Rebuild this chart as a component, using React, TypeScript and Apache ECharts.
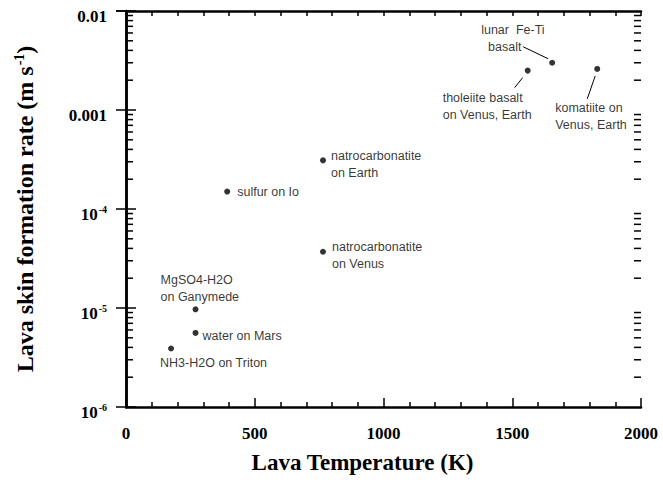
import { useEffect, useRef } from "react";
import * as echarts from "echarts";

// ---- data ----
const pointNames = [
  "NH3-H2O on Triton",
  "water on Mars",
  "MgSO4-H2O on Ganymede",
  "sulfur on Io",
  "natrocarbonatite on Earth",
  "natrocarbonatite on Venus",
  "tholeiite basalt on Venus, Earth",
  "lunar Fe-Ti basalt",
  "komatiite on Venus, Earth",
];
const lavaTemperatureK = [175, 270, 270, 393, 765, 765, 1560, 1655, 1830];
const skinRate = [3.9e-6, 5.6e-6, 9.7e-6, 1.5e-4, 3.1e-4, 3.7e-5, 2.5e-3, 3.0e-3, 2.6e-3];
const pointLabelText = [
  "NH3-H2O on Triton",
  "water on Mars",
  "MgSO4-H2O\non Ganymede",
  "sulfur on Io",
  "natrocarbonatite\non Earth",
  "natrocarbonatite\non Venus",
  "tholeiite basalt\non Venus, Earth",
  "lunar  Fe-Ti\n  basalt",
  "komatiite on\nVenus, Earth",
];
const leaderPointIndex = [6, 7, 8];

const xRange = [0, 2000];
const yRange = [1e-6, 1e-2];
const yDecadeStarts = [1e-6, 1e-5, 1e-4, 1e-3];
const yMinorMultipliers = [2, 3, 4, 5, 6, 7, 8, 9];
const yTickText: Record<string, string> = {
  "-2": "0.01",
  "-3": "0.001",
  "-4": "{b|10}{s|-4}",
  "-5": "{b|10}{s|-5}",
  "-6": "{b|10}{s|-6}",
};

// ---- styling (pixel offsets of labels / leader lines relative to points) ----
const labelOffsets: number[][] = [
  [-11, 15],
  [7, 3],
  [-35, -21],
  [10, 0],
  [8, 4],
  [9, 4],
  [-85, 36],
  [-71, -24],
  [-42, 48],
];
const leaderOffsets: Record<number, number[]> = {
  6: [-5, 7, -13, 17],
  7: [-29, -16, -4, -4],
  8: [-2, 7, -10, 30],
};

const SERIF = "'Liberation Serif', 'Times New Roman', serif";
const SANS = "'Liberation Sans', Arial, sans-serif";

export default function App() {
  const ref = useRef<HTMLDivElement>(null);
  useEffect(() => {
    document.body.style.margin = "0";
    const chart = echarts.init(ref.current!, null, { renderer: "svg" });

    const minorValues: number[] = [];
    for (const d of yDecadeStarts) {
      for (const m of yMinorMultipliers) minorValues.push(d * m);
    }
    const xMid = (xRange[0] + xRange[1]) / 2;

    const scatterData = lavaTemperatureK.map((t, i) => ({
      name: pointNames[i],
      value: [t, skinRate[i]],
      label: {
        show: true,
        position: "inside" as const,
        align: "left" as const,
        verticalAlign: "middle" as const,
        offset: labelOffsets[i],
        formatter: pointLabelText[i],
      },
    }));

    const supRich = {
      b: { fontFamily: SERIF, fontWeight: "bold", fontSize: 17, color: "#000" },
      s: {
        fontFamily: SERIF,
        fontWeight: "bold",
        fontSize: 10,
        color: "#000",
        verticalAlign: "top",
        padding: [0, 0, 9, 1],
      },
    };

    const axisLine = { show: true, lineStyle: { color: "#000", width: 2.5 } };

    chart.setOption({
      animation: false,
      backgroundColor: "#fff",
      grid: {
        left: 126,
        right: 22,
        top: 11,
        bottom: 76,
        containLabel: false,
        outerBoundsMode: "none",
      },
      xAxis: [
        {
          type: "value",
          min: xRange[0],
          max: xRange[1],
          interval: 500,
          position: "bottom",
          axisLine,
          axisTick: { show: true, inside: true, length: 9, lineStyle: { color: "#000", width: 1.5 } },
          minorTick: { show: true, splitNumber: 5, length: 5, lineStyle: { color: "#000", width: 1.5 } },
          splitLine: { show: false },
          axisLabel: {
            fontFamily: SERIF,
            fontWeight: "bold",
            fontSize: 17,
            color: "#000",
            margin: 18,
            formatter: (v: number) => String(v),
          },
          name: "Lava Temperature (K)",
          nameLocation: "middle",
          nameGap: 44,
          nameTextStyle: {
            fontFamily: SERIF,
            fontWeight: "bold",
            fontSize: 23,
            color: "#000",
            padding: [0, 42, 0, 0],
          },
        },
        {
          type: "value",
          min: xRange[0],
          max: xRange[1],
          interval: 100,
          position: "top",
          axisLine,
          axisTick: { show: true, inside: true, length: 5, lineStyle: { color: "#000", width: 1.5 } },
          axisLabel: { show: false },
          splitLine: { show: false },
        },
      ],
      yAxis: [
        {
          type: "log",
          logBase: 10,
          min: yRange[0],
          max: yRange[1],
          position: "left",
          axisLine,
          axisTick: { show: true, inside: true, length: 10, lineStyle: { color: "#000", width: 1.5 } },
          splitLine: { show: false },
          axisLabel: {
            margin: 19,
            fontFamily: SERIF,
            fontWeight: "bold",
            fontSize: 17,
            color: "#000",
            padding: [10, 0, 0, 0],
            formatter: (v: number) => yTickText[String(Math.round(Math.log10(v)))] ?? "",
            rich: supRich,
          },
          name: "Lava skin formation rate (m s{s|-1})",
          nameLocation: "middle",
          nameGap: 88,
          nameTextStyle: {
            fontFamily: SERIF,
            fontWeight: "bold",
            fontSize: 24,
            color: "#000",
            rich: {
              s: {
                fontFamily: SERIF,
                fontWeight: "bold",
                fontSize: 14,
                color: "#000",
                verticalAlign: "top",
                padding: [0, 0, 12, 1],
              },
            },
          },
        },
        {
          type: "log",
          logBase: 10,
          min: yRange[0],
          max: yRange[1],
          position: "right",
          axisLine,
          axisTick: { show: true, inside: true, length: 10, lineStyle: { color: "#000", width: 1.5 } },
          axisLabel: { show: false },
          splitLine: { show: false },
        },
      ],
      series: [
        {
          type: "custom",
          xAxisIndex: 0,
          yAxisIndex: 0,
          clip: false,
          silent: true,
          z: 100,
          data: minorValues.map((v) => [xMid, v]),
          renderItem: (params: any, api: any) => {
            const p = api.coord([api.value(0), api.value(1)]);
            const cs = params.coordSys;
            const xl = cs.x;
            const xr = cs.x + cs.width;
            return {
              type: "group",
              children: [
                {
                  type: "line",
                  shape: { x1: xl, y1: p[1], x2: xl + 7, y2: p[1] },
                  style: { stroke: "#000", lineWidth: 1.5 },
                },
                {
                  type: "line",
                  shape: { x1: xr, y1: p[1], x2: xr - 7, y2: p[1] },
                  style: { stroke: "#000", lineWidth: 1.5 },
                },
              ],
            };
          },
        },
        {
          type: "custom",
          xAxisIndex: 0,
          yAxisIndex: 0,
          clip: false,
          silent: true,
          data: leaderPointIndex.map((i) => [lavaTemperatureK[i], skinRate[i], i]),
          renderItem: (_params: any, api: any) => {
            const p = api.coord([api.value(0), api.value(1)]);
            const o = leaderOffsets[api.value(2)];
            return {
              type: "line",
              shape: { x1: p[0] + o[0], y1: p[1] + o[1], x2: p[0] + o[2], y2: p[1] + o[3] },
              style: { stroke: "#000", lineWidth: 1 },
            };
          },
        },
        {
          type: "scatter",
          xAxisIndex: 0,
          yAxisIndex: 0,
          symbol: "circle",
          symbolSize: 6,
          itemStyle: { color: "#000" },
          label: {
            fontFamily: SANS,
            fontSize: 12.5,
            lineHeight: 17,
            color: "#000",
          },
          data: scatterData,
        },
      ],
    });
    return () => chart.dispose();
  }, []);
  return (
    <div
      ref={ref}
      style={{ position: "absolute", left: 0, top: 0, width: 663, height: 483, background: "#fff" }}
    />
  );
}
